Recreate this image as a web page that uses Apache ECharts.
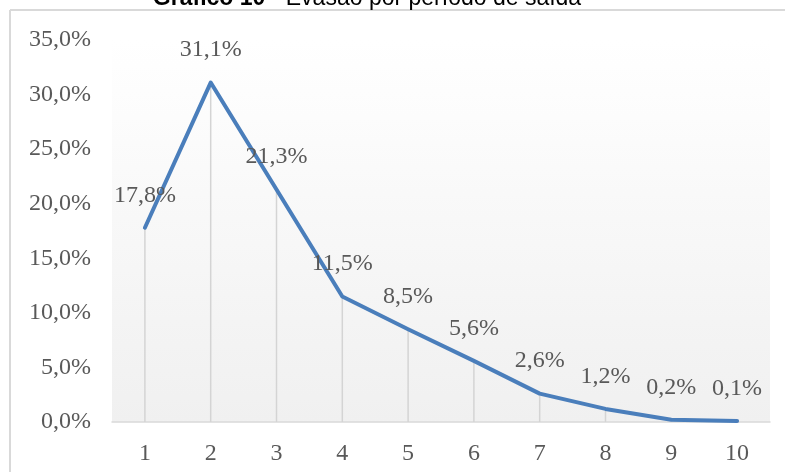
<!DOCTYPE html>
<html>
<head>
<meta charset="utf-8">
<script src="https://cdn.jsdelivr.net/npm/echarts@6/dist/echarts.min.js"></script>
<style>
    html, body { margin: 0; padding: 0; background: #fff; }
    #main { width: 785px; height: 472px; }
</style>
</head>
<body>
<div id="main"></div>
<script>
(function () {
    "use strict";

    // periodo de saida / evasao (%)
    const periodos = ['1', '2', '3', '4', '5', '6', '7', '8', '9', '10'];
    const evasao = [17.8, 31.1, 21.3, 11.5, 8.5, 5.6, 2.6, 1.2, 0.2, 0.1];
    const yTicks = [0, 5, 10, 15, 20, 25, 30, 35];

    const fmt = v => v.toFixed(1).replace('.', ',') + '%';
    const serif = '"Liberation Serif", "Times New Roman", serif';

    let myChart = echarts.init(document.getElementById('main'));

    let option = {
        animation: false,
        backgroundColor: '#fff',
        grid: {
            left: 112,
            right: 15,
            top: 40,
            bottom: 50,
            show: true,
            borderWidth: 0,
            backgroundColor: new echarts.graphic.LinearGradient(0, 0, 0, 1, [
                { offset: 0, color: '#ffffff' },
                { offset: 1, color: '#f0f0f0' }
            ])
        },
        graphic: [
            {
                type: 'line',
                shape: { x1: 10, y1: 10, x2: 785, y2: 10 },
                style: { stroke: '#d9d9d9', lineWidth: 2 }
            },
            {
                type: 'line',
                shape: { x1: 10, y1: 10, x2: 10, y2: 472 },
                style: { stroke: '#d9d9d9', lineWidth: 2 }
            },
            {
                type: 'text',
                x: 367,
                y: 10,
                style: {
                    text: '{b|Gráfico 10} - Evasão por período de saída',
                    align: 'center',
                    verticalAlign: 'bottom',
                    fontFamily: '"Liberation Sans", Arial, sans-serif',
                    fontSize: 23,
                    fill: '#000',
                    rich: {
                        b: { fontWeight: 'bold', fontSize: 23, fontFamily: '"Liberation Sans", Arial, sans-serif' }
                    }
                }
            }
        ],
        xAxis: {
            type: 'category',
            data: periodos,
            boundaryGap: true,
            axisLine: { lineStyle: { color: '#d9d9d9', width: 1.5 } },
            axisTick: { show: false },
            axisLabel: { color: '#595959', fontSize: 24, fontFamily: serif, margin: 20 }
        },
        yAxis: {
            type: 'value',
            min: yTicks[0],
            max: yTicks[yTicks.length - 1],
            interval: 5,
            axisLine: { show: false },
            axisTick: { show: false },
            splitLine: { show: false },
            axisLabel: {
                color: '#595959', fontSize: 24, fontFamily: serif, margin: 21,
                formatter: v => fmt(v)
            }
        },
        series: [
            {
                // linhas de projecao ate o eixo
                type: 'bar',
                data: evasao,
                barWidth: 1.5,
                itemStyle: { color: '#d4d4d4' },
                silent: true
            },
            {
                type: 'line',
                data: evasao,
                showSymbol: true,
                symbol: 'circle',
                symbolSize: 1,
                itemStyle: { color: '#4a7ebb' },
                lineStyle: { color: '#4a7ebb', width: 4, join: 'round', cap: 'round' },
                label: {
                    show: true,
                    position: 'top',
                    distance: 20,
                    color: '#595959',
                    fontSize: 24,
                    fontFamily: serif,
                    formatter: p => fmt(p.value)
                },
                z: 5
            }
        ]
    };
    myChart.setOption(option);
})();
</script>
</body>
</html>
